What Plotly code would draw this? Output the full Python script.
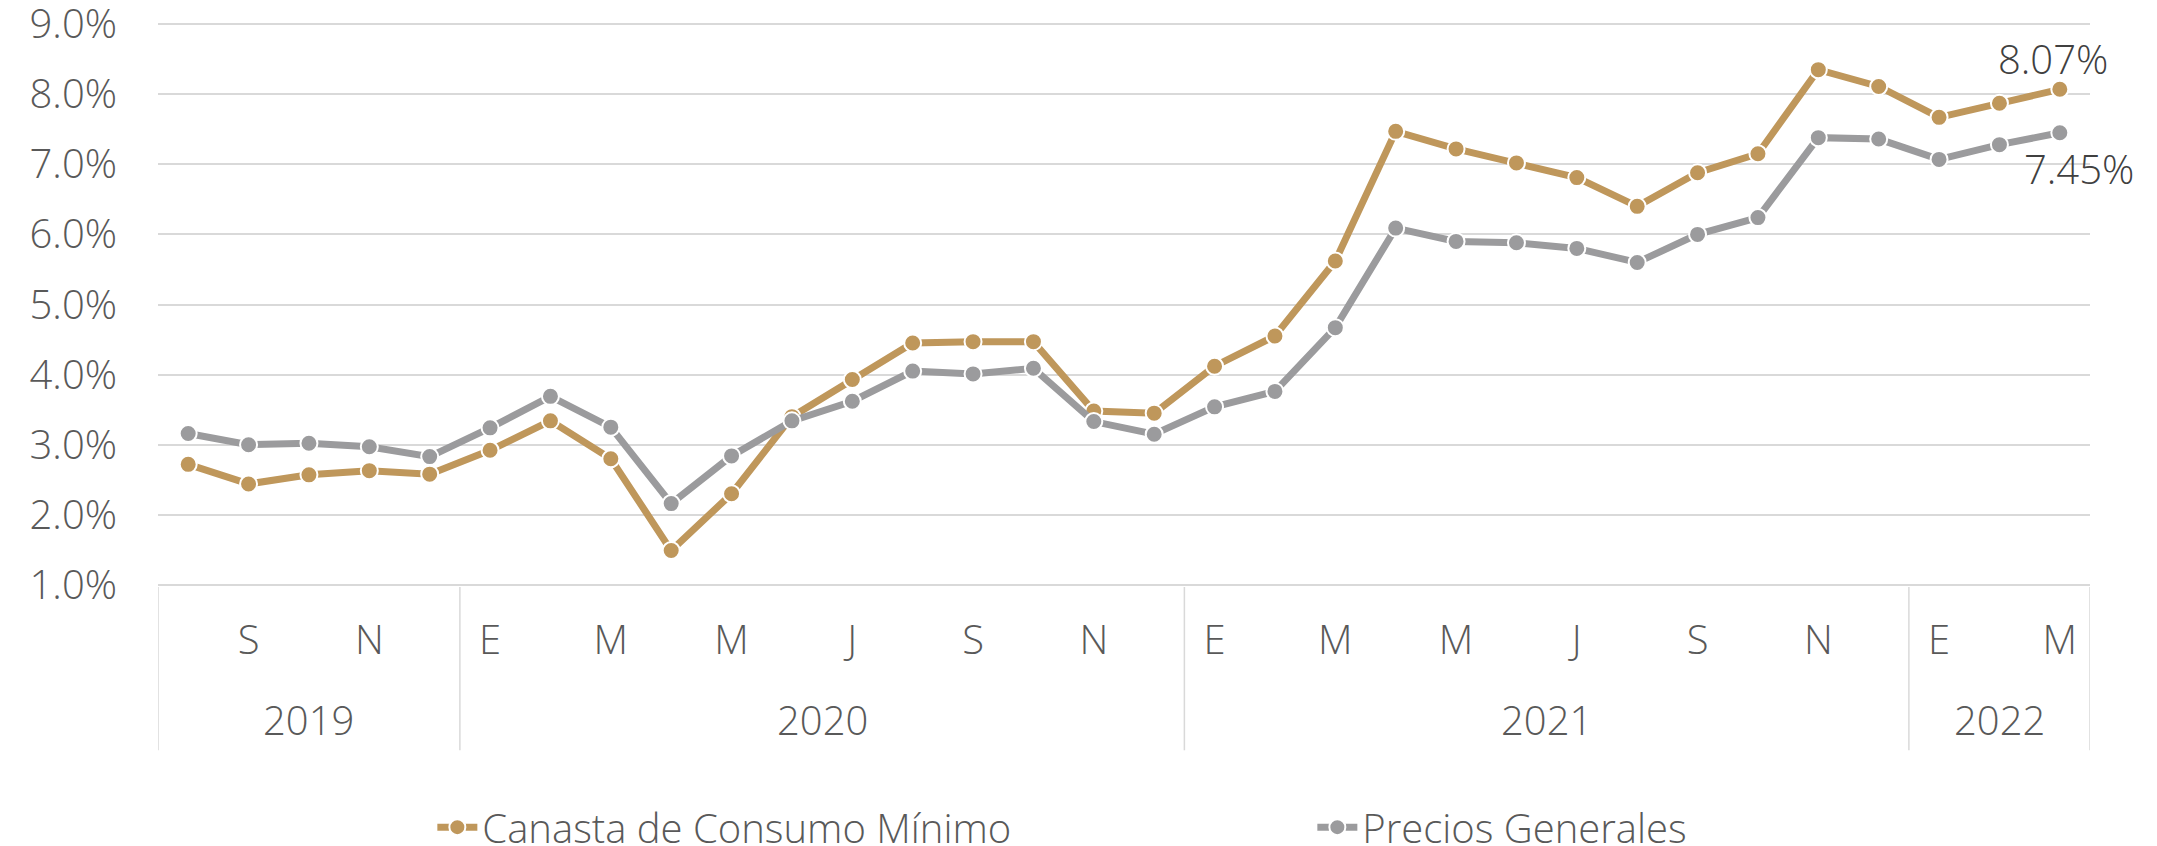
import plotly.graph_objects as go

# Meses (ago 2019 - mar 2022)
meses = ["A", "S", "O", "N", "D",
         "E", "F", "M", "A", "M", "J", "J", "A", "S", "O", "N", "D",
         "E", "F", "M", "A", "M", "J", "J", "A", "S", "O", "N", "D",
         "E", "F", "M"]
anios = ["2019", "2020", "2021", "2022"]
meses_por_anio = [5, 12, 12, 3]
y_ticks = [1, 2, 3, 4, 5, 6, 7, 8, 9]

canasta = [2.72, 2.44, 2.57, 2.63, 2.58,
           2.92, 3.34, 2.80, 1.49, 2.30, 3.40, 3.93, 4.45, 4.47, 4.47, 3.48, 3.45,
           4.12, 4.55, 5.62, 7.47, 7.22, 7.02, 6.81, 6.40, 6.88, 7.15, 8.35, 8.11,
           7.67, 7.87, 8.07]
generales = [3.16, 3.00, 3.02, 2.97, 2.83,
             3.24, 3.69, 3.25, 2.16, 2.84, 3.34, 3.62, 4.05, 4.01, 4.09, 3.33, 3.15,
             3.54, 3.76, 4.67, 6.09, 5.90, 5.88, 5.80, 5.60, 6.00, 6.24, 7.38, 7.36,
             7.07, 7.28, 7.45]

ORO = "#BF975B"
GRIS = "#9B9B9D"
TXT = "#595959"
FONT = "Open Sans"
W = 300

x = list(range(len(meses)))

fig = go.Figure()
fig.add_trace(go.Scatter(
    x=x, y=canasta, name="Canasta de Consumo Mínimo", mode="lines+markers",
    line=dict(color=ORO, width=7),
    marker=dict(size=17, color=ORO, line=dict(color="white", width=2)),
))
fig.add_trace(go.Scatter(
    x=x, y=generales, name="Precios Generales", mode="lines+markers",
    line=dict(color=GRIS, width=7),
    marker=dict(size=17, color=GRIS, line=dict(color="white", width=2)),
))

# etiquetas del último dato
fig.add_annotation(x=x[-1], y=canasta[-1], text=f"{canasta[-1]:.2f}%",
                   showarrow=False, xshift=-7, yshift=31,
                   font=dict(size=40, color="#404040", family=FONT, weight=W))
fig.add_annotation(x=x[-1], y=generales[-1], text=f"{generales[-1]:.2f}%",
                   showarrow=False, xshift=19, yshift=-36,
                   font=dict(size=40, color="#404040", family=FONT, weight=W))

# años y divisores del eje
inicio = -0.5
bordes = [inicio]
for anio, n in zip(anios, meses_por_anio):
    fig.add_annotation(x=inicio + n / 2, y=-0.235, xref="x", yref="paper",
                       text=anio, showarrow=False, yanchor="middle",
                       font=dict(size=40, color=TXT, family=FONT, weight=W))
    inicio += n
    bordes.append(inicio)
for b in bordes:
    fig.add_shape(type="line", xref="x", yref="paper", x0=b, x1=b, y0=0, y1=-0.289,
                  line=dict(color="#D9D9D9", width=1.5))

tick_idx = x[1::2]
fig.update_xaxes(
    range=[-0.5, len(meses) - 0.5],
    tickvals=tick_idx, ticktext=[meses[i] for i in tick_idx],
    showgrid=False, zeroline=False, showline=False, ticks="",
    ticklabelstandoff=26, automargin=False,
    tickfont=dict(size=40, color=TXT, family=FONT, weight=W),
)
fig.update_yaxes(
    range=[0.97, 9.03], tickvals=y_ticks, ticktext=[f"{v:.1f}%" for v in y_ticks],
    showgrid=True, gridcolor="#D9D9D9", gridwidth=2, zeroline=False,
    ticklabelstandoff=40, automargin=False, ticklabeloverflow="allow",
    tickfont=dict(size=40, color=TXT, family=FONT, weight=W),
)

fig.update_layout(
    width=2157, height=846,
    margin=dict(l=150, r=75, t=14, b=267, autoexpand=False),
    plot_bgcolor="white", paper_bgcolor="white",
    font=dict(family=FONT, color=TXT),
    legend=dict(orientation="h", x=0.142, xanchor="left", y=-0.425, yanchor="middle",
                font=dict(size=40, color=TXT, family=FONT, weight=W), entrywidth=825,
                itemwidth=40),
)

fig.write_html("out.html")
